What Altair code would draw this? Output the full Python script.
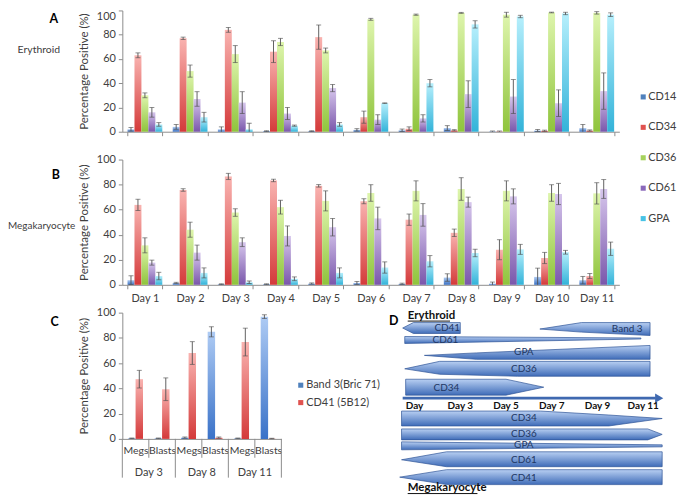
import altair as alt
import pandas as pd

# ---------------- data: panels A (Erythroid) and B (Megakaryocyte) ----------------
days = ["Day 1", "Day 2", "Day 3", "Day 4", "Day 5", "Day 6", "Day 7", "Day 8", "Day 9", "Day 10", "Day 11"]
series = ["CD14", "CD34", "CD36", "CD61", "GPA"]

ery_cd14 = [2.0, 4.0, 2.0, 0.5, 0.5, 1.5, 1.2, 3.0, 0.3, 1.0, 3.0]
ery_cd34 = [63.0, 77.0, 84.0, 66.0, 78.0, 12.0, 2.5, 1.2, 0.3, 0.8, 1.0]
ery_cd36 = [30.0, 50.0, 64.0, 74.0, 67.0, 92.7, 96.5, 98.0, 96.5, 98.3, 98.0]
ery_cd61 = [16.0, 27.0, 24.0, 15.0, 36.0, 10.0, 11.0, 31.0, 29.0, 23.5, 33.5]
ery_gpa = [6.0, 12.0, 2.0, 5.0, 6.0, 23.5, 40.0, 88.5, 95.0, 97.5, 96.5]

ery_cd14_err = [1.5, 2.0, 2.0, 0.3, 0.3, 1.0, 1.0, 2.0, 0.3, 0.8, 3.0]
ery_cd34_err = [2.0, 1.0, 2.0, 9.0, 10.0, 5.0, 1.5, 0.5, 0.3, 0.5, 0.5]
ery_cd36_err = [2.0, 5.0, 7.0, 3.0, 2.0, 0.8, 0.5, 0.4, 2.0, 0.3, 1.0]
ery_cd61_err = [4.0, 6.0, 9.0, 5.0, 3.0, 4.0, 3.0, 11.0, 14.0, 11.0, 15.0]
ery_gpa_err = [1.5, 4.0, 5.0, 0.5, 1.5, 0.3, 3.0, 3.0, 1.0, 1.0, 1.5]

meg_cd14 = [3.7, 1.5, 0.5, 0.5, 1.0, 1.5, 0.8, 5.8, 1.0, 6.3, 3.7]
meg_cd34 = [63.8, 75.7, 86.5, 83.3, 79.0, 66.7, 52.0, 41.5, 28.0, 21.4, 7.0]
meg_cd36 = [31.5, 44.0, 57.7, 62.0, 67.0, 73.3, 75.0, 76.5, 75.0, 73.3, 73.0]
meg_cd61 = [17.7, 25.7, 34.0, 39.0, 46.0, 53.0, 55.8, 66.0, 70.6, 72.5, 76.5]
meg_gpa = [7.0, 9.5, 2.0, 4.8, 9.5, 13.8, 18.8, 25.4, 28.3, 26.0, 28.8]

meg_cd14_err = [3.5, 0.5, 0.3, 0.3, 0.5, 1.2, 0.5, 3.0, 1.2, 7.0, 3.0]
meg_cd34_err = [4.5, 1.0, 2.5, 1.0, 1.0, 2.0, 4.5, 3.0, 8.0, 4.5, 2.0]
meg_cd36_err = [6.0, 6.0, 3.0, 5.5, 8.0, 6.6, 8.0, 9.0, 8.0, 6.6, 8.5]
meg_cd61_err = [2.0, 6.0, 3.5, 8.0, 7.0, 9.0, 9.0, 4.0, 6.0, 8.5, 7.5]
meg_gpa_err = [3.0, 4.0, 1.0, 1.5, 4.0, 4.5, 4.5, 3.0, 4.0, 1.5, 5.3]

# ---------------- data: panel C ----------------
c_days = ["Day 3", "Day 8", "Day 11"]
c_cells = ["Megs", "Blasts"]
c_markers = ["Band 3(Bric 71)", "CD41 (5B12)"]
c_band3 = [0.5, 0.5, 1.0, 84.8, 0.5, 96.8]
c_band3_err = [0.2, 0.2, 0.5, 4.0, 0.2, 1.5]
c_cd41 = [47.3, 39.3, 68.0, 1.0, 76.7, 0.3]
c_cd41_err = [7.0, 9.0, 9.0, 0.5, 11.0, 0.2]

# ---------------- data: panel D (schematic, x in days, y in lane units) ----------------
d_tick_days = [1, 3, 5, 7, 9, 11]
d_tick_labels = ["Day", "Day 3", "Day 5", "Day 7", "Day 9", "Day 11"]
# each shape: list of (day, top, bottom)
ery_cd41_shape = [(0.48, 15.5, 15.5), (0.95, 10, 21), (3.0, 10, 21)]
ery_band3_shape = [(6.48, 16.5, 16.5), (8.3, 10, 19.6), (11.3, 10, 23)]
ery_cd61_shape = [(0.57, 24, 31), (10.9, 25.5, 26.5)]
ery_gpa_shape = [(1.43, 43, 43), (3.7, 40.5, 47), (11.3, 33, 47)]
ery_cd36_shape = [(0.57, 56.5, 56.5), (2.1, 49, 62), (5.5, 49, 64), (11.3, 49, 64)]
ery_cd34_shape = [(0.61, 67, 83), (5.0, 67, 83), (6.65, 75, 75)]
meg_cd34_shape = [(0.43, 99, 114), (6.5, 99, 114), (9.5, 103, 114), (11.83, 106.5, 106.5)]
meg_cd36_shape = [(0.43, 117, 128), (11.2, 117, 128), (11.83, 122.5, 122.5)]
meg_gpa_shape = [(0.43, 130, 138), (11.83, 133, 135)]
meg_cd61_shape = [(0.43, 148, 148), (2.4, 140, 155), (11.83, 140, 155)]
meg_cd41_shape = [(0.35, 165.5, 165.5), (2.4, 158, 173), (11.83, 158, 173)]

d_shapes = [
    ("ery", "CD41", ery_cd41_shape, 2.43, 15.5),
    ("ery", "Band 3", ery_band3_shape, 10.3, 16.5),
    ("ery", "CD61", ery_cd61_shape, 2.35, 27.5),
    ("ery", "GPA", ery_gpa_shape, 5.78, 40),
    ("ery", "CD36", ery_cd36_shape, 5.78, 57),
    ("ery", "CD34", ery_cd34_shape, 2.39, 75.5),
    ("meg", "CD34", meg_cd34_shape, 5.78, 106.5),
    ("meg", "CD36", meg_cd36_shape, 5.78, 122.5),
    ("meg", "GPA", meg_gpa_shape, 5.78, 133.5),
    ("meg", "CD61", meg_cd61_shape, 5.78, 148),
    ("meg", "CD41", meg_cd41_shape, 5.78, 166),
]

# ---------------- styles ----------------
FONT = "Lato"
AXC = "#8c8c8c"
TXC = "#404040"
ERRC = "#505050"
LIGHT = {"CD14": "#aecbf2", "CD34": "#f9b3b0", "CD36": "#def5ad", "CD61": "#d6c6ec", "GPA": "#b6effc",
         "Band 3(Bric 71)": "#aecbf4", "CD41 (5B12)": "#f9b3b0"}
DARK = {"CD14": "#3a70c2", "CD34": "#d43a3a", "CD36": "#8fc43c", "CD61": "#7a57ab", "GPA": "#33b3d9",
        "Band 3(Bric 71)": "#3a72c8", "CD41 (5B12)": "#d43a3a"}
SOLID = {"CD14": "#4f81bd", "CD34": "#e0524f", "CD36": "#a6d25c", "CD61": "#8a68ba", "GPA": "#47c3e6",
         "Band 3(Bric 71)": "#4f81bd", "CD41 (5B12)": "#e0524f"}


def grad(light, dark):
    return alt.LinearGradient(
        gradient="linear",
        stops=[alt.GradientStop(color=light, offset=0), alt.GradientStop(color=dark, offset=1)],
        x1=0, x2=0, y1=0, y2=1,
    )


def label(text, x, y, size=11, weight="normal", align="center", color=TXC):
    return alt.Chart(pd.DataFrame({"t": [text]})).mark_text(
        font=FONT, fontSize=size, fontWeight=weight, align=align, baseline="middle", color=color
    ).encode(x=alt.value(x), y=alt.value(y), text="t:N")


def y_axis(flush_top=False):
    kw = dict(values=[0, 20, 40, 60, 80, 100], grid=False, title="Percentage Positive (%)",
              titleFont=FONT, titleFontSize=11.5, titleFontWeight="normal", titleColor=TXC, titlePadding=7,
              labelFont=FONT, labelFontSize=11, labelColor=TXC, labelPadding=3,
              tickSize=4, tickColor=AXC, domainColor=AXC)
    if flush_top:
        kw["labelBaseline"] = {"condition": {"test": "datum.value == 100", "value": "top"}, "value": "middle"}
    return alt.Axis(**kw)


def long_df(cats, names, vals, errs, cat_field, name_field):
    rows = []
    for j, (n, vl, el) in enumerate(zip(names, vals, errs)):
        for i, (c, v, e) in enumerate(zip(cats, vl, el)):
            rows.append({cat_field: c, name_field: n, "idx": i, "sidx": j, "value": v,
                         "lo": max(v - e, 0.0), "hi": min(v + e, 100.0)})
    return pd.DataFrame(rows)


def bar_panel(df, h, show_days, flush_top):
    xsc = alt.Scale(paddingInner=0.23, paddingOuter=0.115)
    xax = alt.Axis(title=None, labels=show_days, labelAngle=0, labelFont=FONT, labelFontSize=11,
                   labelColor=TXC, labelPadding=4, tickBand="extent", tickSize=4, tickColor=AXC,
                   domainColor=AXC)
    x = alt.X("day:N", sort=days, scale=xsc, axis=xax)
    xo = alt.XOffset("series:N", sort=series, scale=alt.Scale(domain=series, paddingInner=0, paddingOuter=0))
    ysc = alt.Scale(domain=[0, 100], nice=False)
    yax = y_axis(flush_top)
    layers = []
    for s in series:
        layers.append(
            alt.Chart(df).transform_filter(alt.datum.series == s)
            .mark_bar(color=grad(LIGHT[s], DARK[s]))
            .encode(x=x, xOffset=xo, y=alt.Y("value:Q", scale=ysc, axis=yax))
        )
    base = alt.Chart(df).encode(x=x, xOffset=xo)
    layers.append(base.mark_rule(color=ERRC, strokeWidth=0.9).encode(
        y=alt.Y("lo:Q", scale=ysc, axis=yax), y2="hi:Q"))
    layers.append(base.mark_tick(color=ERRC, size=5, thickness=0.9).encode(
        y=alt.Y("hi:Q", scale=ysc, axis=yax)))
    layers.append(base.transform_filter("datum.lo > 0").mark_tick(color=ERRC, size=5, thickness=0.9).encode(
        y=alt.Y("lo:Q", scale=ysc, axis=yax)))
    return layers


# ---------------- panel A ----------------
ery_df = long_df(days, series, [ery_cd14, ery_cd34, ery_cd36, ery_cd61, ery_gpa],
                 [ery_cd14_err, ery_cd34_err, ery_cd36_err, ery_cd61_err, ery_gpa_err], "day", "series")
meg_df = long_df(days, series, [meg_cd14, meg_cd34, meg_cd36, meg_cd61, meg_gpa],
                 [meg_cd14_err, meg_cd34_err, meg_cd36_err, meg_cd61_err, meg_gpa_err], "day", "series")

A_H, B_H = 122, 126
a_layers = bar_panel(ery_df, A_H, False, True)
a_layers += [label("A", -69, 9, size=12.5, weight="bold", color="#000000"),
             label("Erythroid", -84, 40, size=10.5)]
panel_a = alt.layer(*a_layers).properties(width=500, height=A_H)

# ---------------- panel B ----------------
b_layers = bar_panel(meg_df, B_H, True, False)
b_layers += [label("B", -67, 16, size=12.5, weight="bold", color="#000000"),
             label("Megakaryocyte", -115, 67, size=10, align="left")]
LEG_X, LEG_Y0, LEG_STEP = 524, -63, 30.6
for i, s in enumerate(series):
    yy = LEG_Y0 + i * LEG_STEP
    b_layers.append(alt.Chart(pd.DataFrame({"t": [s]})).mark_square(size=26, color=SOLID[s], opacity=1)
                    .encode(x=alt.value(LEG_X), y=alt.value(yy)))
    b_layers.append(label(s, LEG_X + 5, yy, size=11, align="left"))
panel_b = alt.layer(*b_layers).properties(width=500, height=B_H)

# ---------------- panel C ----------------
# categories are placed on an index scale: category i occupies [i, i+1]
c_cats = [f"{d}|{c}" for d in c_days for c in c_cells]
n_c = len(c_cats)
BAR_FRAC = 0.28  # width of one bar, as a fraction of a category
c_df = long_df(c_cats, c_markers, [c_band3, c_cd41], [c_band3_err, c_cd41_err], "cat", "marker")
c_df["x0"] = c_df["idx"] + 0.5 + (c_df["sidx"] - 1) * BAR_FRAC
c_df["x1"] = c_df["x0"] + BAR_FRAC
c_df["xc"] = c_df["x0"] + BAR_FRAC / 2
c_bound_df = pd.DataFrame({"pos": list(range(n_c + 1)),
                           "tall": [p % len(c_cells) == 0 for p in range(n_c + 1)]})
c_grp_df = pd.DataFrame({"grp": c_days,
                         "pos": [len(c_cells) * i + len(c_cells) / 2 for i in range(len(c_days))]})
C_W, C_H = 160, 127
pos_sc = alt.Scale(domain=[0, n_c], nice=False, zero=False)
cell_js = "[" + ",".join(f"'{c}'" for c in c_cells) + "]"
cxax = alt.Axis(title=None, values=[i + 0.5 for i in range(n_c)],
                labelExpr=f"{cell_js}[floor(datum.value) % {len(c_cells)}]",
                labelOverlap=False, labelFlush=False,
                ticks=False, grid=False, labelAngle=0, labelFont=FONT, labelFontSize=10.5, labelColor=TXC,
                labelPadding=7, domainColor=AXC)
cysc = alt.Scale(domain=[0, 100], nice=False)
cyax = y_axis(False)
c_layers = []
for m in c_markers:
    c_layers.append(alt.Chart(c_df).transform_filter(alt.datum.marker == m)
                    .mark_bar(color=grad(LIGHT[m], DARK[m]))
                    .encode(x=alt.X("x0:Q", scale=pos_sc, axis=cxax), x2="x1:Q",
                            y=alt.Y("value:Q", scale=cysc, axis=cyax), y2=alt.datum(0)))
cbase = alt.Chart(c_df).encode(x=alt.X("xc:Q", scale=pos_sc, axis=cxax))
c_layers.append(cbase.mark_rule(color=ERRC, strokeWidth=0.9).encode(
    y=alt.Y("lo:Q", scale=cysc, axis=cyax), y2="hi:Q"))
c_layers.append(cbase.mark_tick(color=ERRC, size=5, thickness=0.9, orient="horizontal").encode(
    y=alt.Y("hi:Q", scale=cysc, axis=cyax)))
c_layers.append(cbase.transform_filter("datum.lo > 0")
                .mark_tick(color=ERRC, size=5, thickness=0.9, orient="horizontal").encode(
    y=alt.Y("lo:Q", scale=cysc, axis=cyax)))
c_layers += [
    alt.Chart(c_bound_df).transform_filter("!datum.tall").mark_rule(color=AXC, strokeWidth=1)
    .encode(x=alt.X("pos:Q", scale=pos_sc, axis=cxax), y=alt.value(C_H), y2=alt.value(C_H + 19)),
    alt.Chart(c_bound_df).transform_filter("datum.tall").mark_rule(color=AXC, strokeWidth=1)
    .encode(x=alt.X("pos:Q", scale=pos_sc, axis=cxax), y=alt.value(C_H), y2=alt.value(C_H + 39)),
    alt.Chart(c_grp_df).mark_text(font=FONT, fontSize=11, color=TXC, baseline="middle")
    .encode(x=alt.X("pos:Q", scale=pos_sc, axis=cxax), y=alt.value(C_H + 34), text="grp:N"),
]
c_layers.append(label("C", -68, 9, size=12.5, weight="bold", color="#000000"))
for i, m in enumerate(c_markers):
    yy = 73 + i * 17.5
    c_layers.append(alt.Chart(pd.DataFrame({"t": [m]})).mark_square(size=26, color=SOLID[m], opacity=1)
                    .encode(x=alt.value(179.5), y=alt.value(yy)))
    c_layers.append(label(m, 185, yy, size=11, align="left"))
panel_c = alt.layer(*c_layers).properties(width=C_W, height=C_H)

# ---------------- panel D ----------------
D_W, D_H = 274, 180
dxs = alt.Scale(domain=[0.174, 12.087], nice=False, zero=False)
dys = alt.Scale(domain=[0, D_H], reverse=True, nice=False, zero=False)
shape_rows, text_rows = [], []
for grp, name, pts, lx, ly in d_shapes:
    for (dx, top, bot) in pts:
        shape_rows.append({"shape": f"{grp}-{name}", "day": dx, "top": top, "bot": bot})
    text_rows.append({"name": name, "day": lx, "yy": ly})
shape_df = pd.DataFrame(shape_rows)
dtext_df = pd.DataFrame(text_rows)
d_layers = []
d_layers.append(alt.Chart(shape_df).mark_area(
    orient="vertical", interpolate="linear", color=grad("#b8cff2", "#3f6cb8"),
    stroke="#2f5597", strokeWidth=0.7, opacity=1)
    .encode(x=alt.X("day:Q", scale=dxs, axis=None),
            y=alt.Y("top:Q", scale=dys, axis=None, stack=None),
            y2="bot:Q", detail="shape:N"))
d_layers.append(alt.Chart(dtext_df).mark_text(font=FONT, fontSize=10, color="#1f3763", baseline="middle")
                .encode(x=alt.X("day:Q", scale=dxs, axis=None), y=alt.Y("yy:Q", scale=dys, axis=None),
                        text="name:N"))
arrow_df = pd.DataFrame({"x0": [0.48], "x1": [11.55], "yv": [86], "xa": [11.7]})
d_layers.append(alt.Chart(arrow_df).mark_rule(strokeWidth=3, color="#3f69b0")
                .encode(x=alt.X("x0:Q", scale=dxs, axis=None), x2="x1:Q",
                        y=alt.Y("yv:Q", scale=dys, axis=None)))
d_layers.append(alt.Chart(arrow_df).mark_point(shape="triangle-right", filled=True, size=90,
                                               color="#3f69b0", opacity=1)
                .encode(x=alt.X("xa:Q", scale=dxs, axis=None), y=alt.Y("yv:Q", scale=dys, axis=None)))
tick_df = pd.DataFrame({"day": d_tick_days, "lab": d_tick_labels, "yy": [94] * len(d_tick_days)})
d_layers.append(alt.Chart(tick_df).mark_text(font=FONT, fontSize=10, fontWeight="bold", color="#111111",
                                             baseline="middle")
                .encode(x=alt.X("day:Q", scale=dxs, axis=None), y=alt.Y("yy:Q", scale=dys, axis=None),
                        text="lab:N"))
head_df = pd.DataFrame({"t": ["Erythroid", "Megakaryocyte"], "day": [0.70, 0.70], "yy": [3, 176],
                        "u1": [2.55, 3.75], "uy": [8.5, 182]})
d_layers.append(alt.Chart(head_df).mark_text(font=FONT, fontSize=11.5, fontWeight="bold", color="#111111",
                                             align="left", baseline="middle")
                .encode(x=alt.X("day:Q", scale=dxs, axis=None), y=alt.Y("yy:Q", scale=dys, axis=None),
                        text="t:N"))
d_layers.append(alt.Chart(head_df).mark_rule(color="#111111", strokeWidth=1)
                .encode(x=alt.X("day:Q", scale=dxs, axis=None), x2="u1:Q",
                        y=alt.Y("uy:Q", scale=dys, axis=None)))
d_layers.append(label("D", -2, 8, size=12.5, weight="bold", color="#000000"))
panel_d = alt.layer(*d_layers).properties(width=D_W, height=D_H)

# ---------------- assemble ----------------
bottom = alt.hconcat(panel_c, panel_d, spacing=115, bounds="flush")
chart = alt.vconcat(panel_a, panel_b, bottom, spacing=28, bounds="flush", padding=0, background="white") \
    .configure_view(stroke=None)

chart.save("out.html", embed_options={"renderer": "svg", "actions": False})
